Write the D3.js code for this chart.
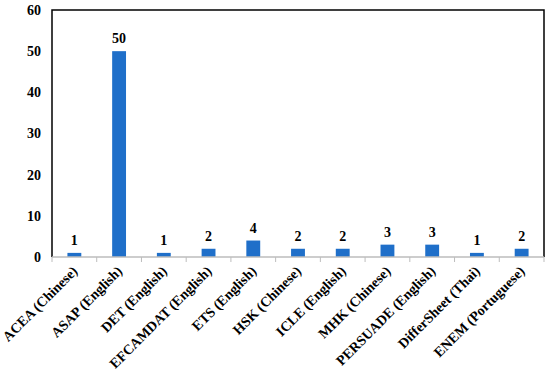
<!DOCTYPE html>
<html>
<head>
<meta charset="utf-8">
<script src="https://cdn.jsdelivr.net/npm/d3@7"></script>
<style>
  body { margin: 0; background: #fff; }
  text { font-family: "Liberation Serif", "Times New Roman", serif; font-weight: bold; fill: #000; }
</style>
</head>
<body>
<svg id="chart" width="550" height="378"></svg>
<script>
// data
const categories = ["ACEA (Chinese)", "ASAP (English)", "DET (English)", "EFCAMDAT (English)",
                    "ETS (English)", "HSK (Chinese)", "ICLE (English)", "MHK (Chinese)",
                    "PERSUADE (English)", "DifferSheet (Thai)", "ENEM (Portuguese)"];
const counts = [1, 50, 1, 2, 4, 2, 2, 3, 3, 1, 2];
const yTicks = [0, 10, 20, 30, 40, 50, 60];

const margin = { top: 10, right: 6, bottom: 121, left: 52 };
const svg = d3.select("#chart");
const W = 550, H = 378;
const w = W - margin.left - margin.right,
      h = H - margin.top - margin.bottom;

const g = svg.append("g").attr("transform", `translate(${margin.left},${margin.top})`);

const x = d3.scaleBand().domain(categories).range([0, w]).paddingInner(0.69).paddingOuter(0.345);
const y = d3.scaleLinear().domain([0, 60]).range([h, 0]);

// bars
g.selectAll(".bar")
  .data(counts)
  .join("rect")
    .attr("class", "bar")
    .attr("x", (d, i) => x(categories[i]))
    .attr("y", d => y(d))
    .attr("width", x.bandwidth())
    .attr("height", d => h - y(d))
    .attr("fill", "#1f6fc9");

// value labels
g.selectAll(".val")
  .data(counts)
  .join("text")
    .attr("class", "val")
    .attr("x", (d, i) => x(categories[i]) + x.bandwidth() / 2)
    .attr("y", d => y(d) - 8)
    .attr("text-anchor", "middle")
    .attr("font-size", 14)
    .text(d => d);

// y axis labels (no tick marks)
g.selectAll(".ylab")
  .data(yTicks)
  .join("text")
    .attr("class", "ylab")
    .attr("x", -11)
    .attr("y", d => y(d))
    .attr("dy", "0.35em")
    .attr("text-anchor", "end")
    .attr("font-size", 14)
    .text(d => d);

// frame: top, right, left black
g.append("path")
  .attr("d", `M0,${h}V0H${w}V${h}`)
  .attr("fill", "none")
  .attr("stroke", "#000")
  .attr("stroke-width", 1.5);

// bottom axis, grey with ticks between bands
const step = x.step();
const bounds = d3.range(categories.length + 1).map(i => i * step);
g.append("line")
  .attr("x1", 0).attr("x2", w).attr("y1", h).attr("y2", h)
  .attr("stroke", "#bdbdbd").attr("stroke-width", 1.5);
g.selectAll(".xtick")
  .data(bounds)
  .join("line")
    .attr("class", "xtick")
    .attr("x1", d => d).attr("x2", d => d)
    .attr("y1", h).attr("y2", h + 5)
    .attr("stroke", "#bdbdbd");

// category labels, rotated
g.selectAll(".xlab")
  .data(categories)
  .join("text")
    .attr("class", "xlab")
    .attr("transform", d => `translate(${x(d) + x.bandwidth() / 2 + 4},${h + 15}) rotate(-45)`)
    .attr("text-anchor", "end")
    .attr("font-size", 14)
    .text(d => d);
</script>
</body>
</html>
